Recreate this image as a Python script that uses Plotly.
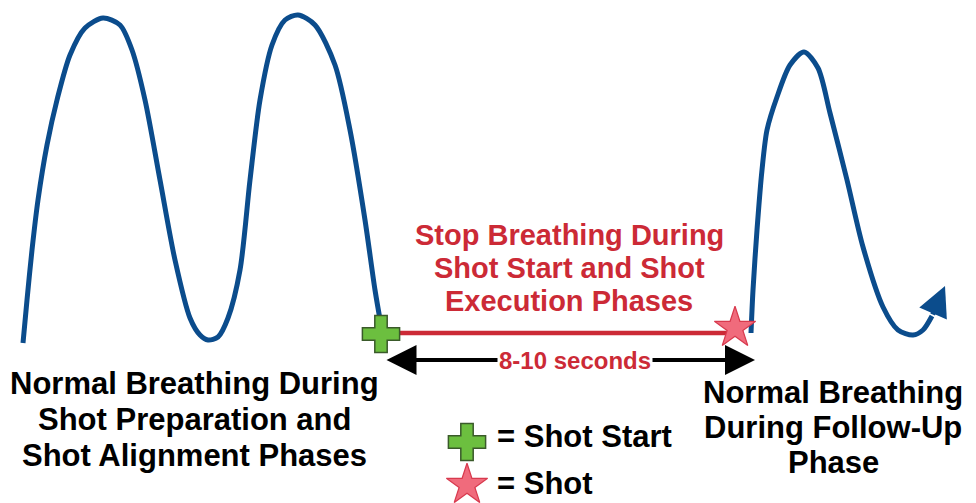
import plotly.graph_objects as go

# Breathing trace before the shot (x = time position, y = chest level, screen units, down = exhale)
pre_x = [23, 27, 32, 38, 47, 57, 70, 85, 103, 120, 132, 145, 160, 175, 190, 200, 208, 218, 228, 240, 250, 260, 272, 285, 298, 315, 335, 350, 365, 375, 381]
pre_y = [343, 300, 250, 200, 145, 100, 55, 28, 18, 25, 50, 100, 180, 260, 318, 335, 340, 337, 318, 270, 180, 100, 45, 20, 15, 25, 65, 130, 220, 290, 325]

# Breathing trace after the shot
post_x = [751, 753, 757, 762, 767, 777, 790, 804, 818, 830, 847, 863, 883, 898, 913, 923, 932]
post_y = [333, 290, 230, 170, 130, 97, 65, 52, 68, 113, 180, 247, 307, 330, 335, 330, 316]
arrow_tip = (945, 286)

# Breath hold segment
hold_x = [381, 735]
hold_y = [333, 333]

shot_start = (381, 334)
shot = (735, 328)
legend_pos = [(467, 442), (467, 485)]

duration_span = (385, 755, 360)
duration_label = "8-10 seconds"

hold_lines = ["Stop Breathing During", "Shot Start and Shot", "Execution Phases"]
pre_lines = ["Normal Breathing During", "Shot Preparation and", "Shot Alignment Phases"]
post_lines = ["Normal Breathing", "During Follow-Up", "Phase"]
legend_items = ["= Shot Start", "= Shot"]

BLUE = "#0b4c8c"
RED = "#cc2a36"
GREEN = "#6cbf3f"
PINK = "#f06b7c"
FONT = "Liberation Sans, Arial"

fig = go.Figure()

fig.add_trace(go.Scatter(x=pre_x, y=pre_y, mode="lines", line=dict(color=BLUE, width=5, shape="spline", smoothing=0.8), hoverinfo="skip"))
fig.add_trace(go.Scatter(x=post_x, y=post_y, mode="lines", line=dict(color=BLUE, width=5, shape="spline", smoothing=0.8), hoverinfo="skip"))
fig.add_trace(go.Scatter(x=hold_x, y=hold_y, mode="lines", line=dict(color=RED, width=4.5), hoverinfo="skip"))

# arrow head on the follow-up trace
fig.add_annotation(x=arrow_tip[0], y=arrow_tip[1], ax=post_x[-1], ay=post_y[-1], xref="x", yref="y", axref="x", ayref="y",
                   showarrow=True, arrowhead=2, arrowsize=1.2, arrowwidth=5, arrowcolor=BLUE, text="")

cross_marker = dict(symbol="cross", size=31, color=GREEN, line=dict(color="#3a5a2a", width=1.5))
star_marker = dict(symbol="star", size=31, color=PINK, line=dict(color="#d83a4e", width=1.2))

fig.add_trace(go.Scatter(x=[shot_start[0]], y=[shot_start[1]], mode="markers", marker=cross_marker, hoverinfo="skip"))
fig.add_trace(go.Scatter(x=[shot[0]], y=[shot[1]], mode="markers", marker=star_marker, hoverinfo="skip"))
fig.add_trace(go.Scatter(x=[legend_pos[0][0]], y=[legend_pos[0][1]], mode="markers", marker=cross_marker, hoverinfo="skip"))
fig.add_trace(go.Scatter(x=[legend_pos[1][0]], y=[legend_pos[1][1]], mode="markers", marker=star_marker, hoverinfo="skip"))

# double arrow
x0, x1, yy = duration_span
fig.add_annotation(x=x1, y=yy, ax=x0, ay=yy, xref="x", yref="y", axref="x", ayref="y",
                   showarrow=True, arrowhead=2, startarrowhead=2, arrowside="end+start",
                   arrowsize=1.5, startarrowsize=1.5, arrowwidth=4, arrowcolor="black", text="")
fig.add_annotation(x=575, y=yy, text="<b>" + duration_label + "</b>", showarrow=False,
                   font=dict(family=FONT, size=24, color=RED), bgcolor="white", borderpad=1)

for i, t in enumerate(hold_lines):
    fig.add_annotation(x=569, y=235 + 33 * i, text="<b>" + t + "</b>", showarrow=False,
                       font=dict(family=FONT, size=29, color=RED))
for i, t in enumerate(pre_lines):
    fig.add_annotation(x=194, y=383 + 36 * i, text="<b>" + t + "</b>", showarrow=False,
                       font=dict(family=FONT, size=31, color="black"))
for i, t in enumerate(post_lines):
    fig.add_annotation(x=833, y=392 + 35 * i, text="<b>" + t + "</b>", showarrow=False,
                       font=dict(family=FONT, size=31, color="black"))
for i, t in enumerate(legend_items):
    fig.add_annotation(x=495, y=436 + 47 * i, text="<b>" + t + "</b>", showarrow=False, xanchor="left",
                       font=dict(family=FONT, size=31, color="black"))

fig.update_layout(width=976, height=503, margin=dict(l=0, r=0, t=0, b=0),
                  paper_bgcolor="white", plot_bgcolor="white", showlegend=False,
                  xaxis=dict(range=[0, 976], visible=False, fixedrange=True),
                  yaxis=dict(range=[503, 0], visible=False, fixedrange=True))

fig.write_html("out.html", config={"displayModeBar": False},
               post_script="document.body.style.margin='0';document.body.style.overflow='hidden';")
